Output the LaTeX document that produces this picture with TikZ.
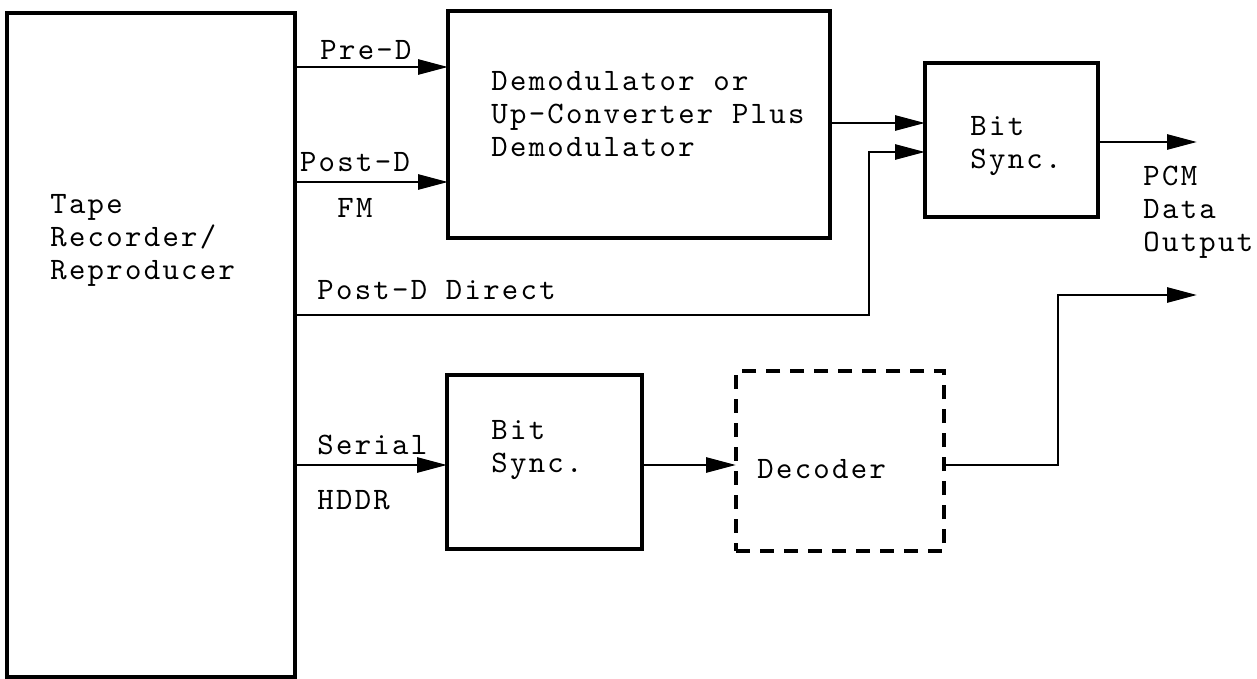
\documentclass[tikz,border=0pt]{standalone}
\usepackage{fontspec}
\newfontfamily\tw{lmmono10-regular.otf}[LetterSpace=7.4]
\usetikzlibrary{arrows.meta}
\tikzset{
  blk/.style={draw, line width=1.6pt, inner sep=0pt, outer sep=0pt},
  dblk/.style={blk, dash pattern=on 7pt off 5pt},
  txt/.style={inner sep=0pt, anchor=west, align=left, font=\tw\fontsize{15.6}{16.5}\selectfont},
  arr/.style={line width=1.4pt, -{Triangle[length=15pt,width=7.5pt]}},
  ln/.style={line width=1.4pt}
}
\begin{document}
\begin{tikzpicture}[x=0.5pt,y=-0.5pt]
\useasboundingbox (0,0) rectangle (1257,679);
% boxes
\node[blk, minimum width=144pt, minimum height=332pt] (tape) at (151,345) {};
\node[blk, minimum width=191pt, minimum height=113.5pt] (demod) at (639,124.5) {};
\node[blk, minimum width=86.5pt, minimum height=77pt] (bs1) at (1011.5,140) {};
\node[blk, minimum width=97.5pt, minimum height=87pt] (bs2) at (544.5,462) {};
\node[dblk, minimum width=104pt, minimum height=90pt] (dec) at (840,461) {};
% texts
\node[txt] (tTape) at (50,240.5) {Tape\\Recorder/\\Reproducer};
\node[txt] (tDemod) at (491,114.5) {Demodulator or\\Up-Converter Plus\\Demodulator};
\node[txt] (tBs1) at (970,146.5) {Bit\\Sync.};
\node[txt] (tBs2) at (491,450) {Bit\\Sync.};
\node[txt] (tDec) at (757,469) {Decoder};
\node[txt] (tPCM) at (1143,212.5) {PCM\\Data\\Output};
\node[txt, anchor=center] (tPre) at (366,50) {Pre-D};
\node[txt, anchor=center] (tPost) at (355,162) {Post-D};
\node[txt, anchor=center] (tFM) at (355,208) {FM};
\node[txt] (tDir) at (317,290) {Post-D Direct};
\node[txt] (tSer) at (317,445) {Serial};
\node[txt] (tHDDR) at (317,500) {HDDR};
% connectors
\coordinate (c1) at (869,315);
\coordinate (c2) at (869,152);
\coordinate (c3) at (1058,465);
\coordinate (c4) at (1058,295);
\coordinate (o1) at (1197,142);
\coordinate (o2) at (1197,295);
\draw[arr] (tape.east |- 0,67) -- (demod.west |- 0,67);
\draw[arr] (tape.east |- 0,182) -- (demod.west |- 0,182);
\draw[arr] (demod.east |- 0,123) -- (bs1.west |- 0,123);
\draw[arr] (tape.east |- c1) -- (c1) -- (c2) -- (bs1.west |- c2);
\draw[arr] (bs1.east |- o1) -- (o1);
\draw[arr] (tape.east |- 0,465) -- (bs2.west |- 0,465);
\draw[arr] (bs2.east |- 0,465) -- (dec.west |- 0,465);
\draw[arr] (dec.east |- c3) -- (c3) -- (c4) -- (o2);
\end{tikzpicture}
\end{document}
